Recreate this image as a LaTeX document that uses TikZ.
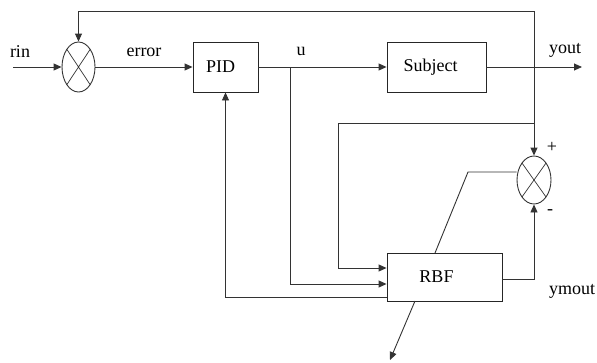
\documentclass[tikz,border=0pt]{standalone}
\usepackage{fontspec}
\setmainfont{Liberation Serif}
\usetikzlibrary{arrows.meta,shapes.geometric}
\begin{document}
\begin{tikzpicture}[x=1pt,y=-1pt, line width=0.9pt, color=black!80,
  box/.style={draw=black!85, rectangle, inner sep=0pt, line width=0.9pt},
  sumj/.style={draw=black!80, ellipse, inner sep=0pt, line width=0.9pt,
    path picture={\draw[line width=0.7pt] (path picture bounding box.north west) -- (path picture bounding box.south east)
      (path picture bounding box.north east) -- (path picture bounding box.south west);}},
  sig/.style={-{Triangle[length=8pt,width=7pt]}},
  lbl/.style={font=\fontsize{18}{18}\selectfont, inner sep=0pt, text=black}]
\useasboundingbox (0,0) rectangle (597,362);

% blocks
\node[sumj, minimum width=33pt, minimum height=50pt] (s1) at (78.5,67) {};
\node[box, minimum width=65pt, minimum height=50pt, label={[lbl,xshift=-5pt]center:PID}] (pid) at (225.5,67) {};
\node[box, minimum width=99pt, minimum height=50pt, label={[lbl,xshift=-6pt]center:Subject}] (subj) at (436.5,67) {};
\node[box, minimum width=115pt, minimum height=48pt, label={[lbl,xshift=-8pt]center:RBF}] (rbf) at (444.5,277) {};
\node[sumj, minimum width=34pt, minimum height=48pt] (s2) at (534,180) {};

% coordinates
\coordinate (rin) at (13,67);
\coordinate (yout) at (582,67);
\coordinate (br1) at (534,67);
\coordinate (ubr) at (290,67);
\coordinate (fbA) at (534,11);
\coordinate (fbB) at (78.5,11);
\coordinate (t1) at (534,123);
\coordinate (t2) at (338,123);
\coordinate (t3) at (338,268);
\coordinate (d1) at (468,172);
\coordinate (d2) at (435,253);
\coordinate (d3) at (415,301);
\coordinate (d4) at (390,360);

% labels
\node[lbl] (lrin) at (20,52) {rin};
\node[lbl] (lerr) at (144,52) {error};
\node[lbl] (lu) at (301,51) {u};
\node[lbl] (lyout) at (565,50) {yout};
\node[lbl] (lplus) at (552,147) {+};
\node[lbl] (lminus) at (550,212) {-};
\node[lbl] (lymout) at (572,291) {ymout};

% connectors
\draw[sig] (rin) -- (s1.west);
\draw[sig] (s1.east) -- (pid.west);
\draw[sig] (pid.east) -- (subj.west);
\draw[sig] (subj.east) -- (yout);
\draw[sig] (br1) -- (fbA) -- (fbB) -- (s1.north);
\draw[sig] (br1) -- (s2.north);
\draw[sig] (t1) -- (t2) -- (t3) -- (t3 -| rbf.west);
\draw[sig] (ubr) |- ([yshift=-7pt]rbf.west);
\draw[sig] ([yshift=-20pt]rbf.west) -| (pid.south);
\draw[sig] ([yshift=-2pt]rbf.east) -| (s2.south);
\draw (s2.west |- d1) -- (d1) -- (d2);
\draw[sig] (d3) -- (d4);
\end{tikzpicture}
\end{document}
